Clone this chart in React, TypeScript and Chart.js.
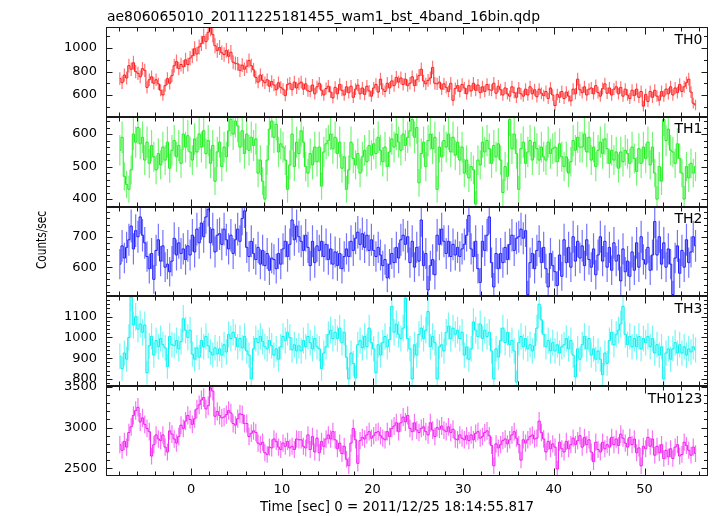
import { useEffect, useRef } from "react";
import { Chart, registerables } from "chart.js";

Chart.register(...registerables);

const TITLE = "ae806065010_20111225181455_wam1_bst_4band_16bin.qdp";
const X_TITLE = "Time [sec] 0 = 2011/12/25 18:14:55.817";
const Y_TITLE = "Counts/sec";

const BIN_START = -7.875;
const BIN_WIDTH = 0.25;
const X_MIN = -9.4;
const X_MAX = 57;
const xTickValues = [0, 10, 20, 30, 40, 50];
const xMinorStep = 2;
const xMajorStep = 10;

const panelNames = ["TH0", "TH1", "TH2", "TH3", "TH0123"];
const panelColors = ["#ff1a1a", "#1aee1a", "#1a1aff", "#00f0f0", "#f01af0"];
const errorColors = [
  "rgba(255,0,0,0.55)",
  "rgba(0,238,0,0.55)",
  "rgba(0,0,255,0.55)",
  "rgba(0,240,240,0.55)",
  "rgba(240,0,240,0.55)",
];
const yMins = [414, 377, 504, 765, 2404];
const yMaxs = [1180, 653, 799, 1198, 3510];
const yTickLabels = [
  [600, 800, 1000],
  [400, 500, 600],
  [600, 700],
  [800, 900, 1000, 1100],
  [2500, 3000, 3500],
];
const yMinorSteps = [100, 20, 20, 20, 100];

// TH0 count rate, 0.25 s bins from t = -8 s
const th0 = [
  740, 705, 770, 745, 850, 820, 875, 800,
  785, 755, 825, 810, 665, 730, 755, 700,
  730, 695, 640, 600, 680, 740, 700, 765,
  850, 885, 825, 860, 840, 900, 860, 915,
  935, 995, 950, 1010, 1040, 1100, 1055, 1135,
  1170, 1115, 1020, 980, 1005, 960, 945, 980,
  930, 965, 880, 870, 865, 810, 855, 820,
  845, 895, 850, 815, 750, 710, 770, 725,
  705, 730, 675, 715, 685, 645, 705, 665,
  650, 595, 690, 700, 645, 710, 660, 695,
  710, 650, 695, 635, 630, 685, 610, 670,
  700, 640, 600, 655, 675, 625, 575, 665,
  610, 690, 640, 600, 670, 620, 675, 580,
  650, 685, 610, 660, 605, 675, 635, 590,
  660, 690, 625, 735, 650, 630, 700, 660,
  720, 680, 750, 710, 745, 690, 735, 680,
  700, 755, 680, 730, 765, 820, 720, 695,
  725, 745, 835, 700, 695, 710, 650, 695,
  665, 630, 700, 555, 655, 680, 630, 690,
  660, 610, 680, 635, 700, 640, 685, 620,
  670, 630, 690, 645, 640, 700, 615, 675,
  645, 600, 660, 610, 590, 670, 620, 580,
  660, 610, 590, 650, 600, 670, 610, 645,
  585, 650, 615, 595, 630, 570, 660, 600,
  510, 605, 580, 630, 570, 625, 590, 550,
  650, 610, 735, 645, 620, 670, 600, 650,
  660, 610, 680, 620, 590, 655, 695, 615,
  660, 600, 650, 670, 610, 665, 590, 650,
  600, 570, 640, 595, 650, 580, 630, 505,
  605, 545, 630, 580, 640, 590, 555, 630,
  590, 650, 610, 670, 600, 660, 620, 690,
  630, 670, 705, 735, 625, 530, 515,
];

const th1 = [
  550, 590, 470, 445, 430, 490, 600, 575,
  620, 570, 590, 520, 575, 510, 565, 530,
  490, 540, 505, 560, 520, 575, 495, 550,
  580, 530, 565, 510, 600, 560, 595, 545,
  520, 585, 545, 600, 560, 610, 540, 580,
  510, 565, 455, 545, 575, 500, 560, 530,
  610, 645, 600, 640, 625, 560, 610, 540,
  600, 550, 590, 565, 585, 480, 520, 455,
  400, 520, 615, 640, 590, 630, 545, 570,
  560, 520, 430, 505, 600, 500, 575, 540,
  610, 575, 500, 480, 540, 505, 560, 515,
  560, 440, 545, 570, 580, 600, 555, 590,
  540, 575, 495, 530, 430, 490, 575, 525,
  505, 540, 480, 530, 550, 515, 565, 535,
  570, 540, 590, 550, 515, 560, 500, 545,
  585, 560, 600, 575, 550, 600, 565, 590,
  610, 645, 590, 620, 450, 540, 575, 500,
  580, 600, 555, 590, 430, 560, 530, 580,
  560, 600, 545, 590, 535, 575, 520, 560,
  480, 520, 465, 500, 490, 385, 520, 505,
  575, 545, 580, 555, 510, 565, 530, 570,
  520, 420, 500, 470, 645, 555, 600, 540,
  430, 555, 575, 510, 545, 580, 520, 575,
  555, 520, 560, 530, 520, 575, 540, 555,
  560, 515, 570, 530, 500, 530, 480, 515,
  580, 550, 590, 560, 560, 600, 545, 590,
  520, 560, 500, 550, 575, 540, 585, 555,
  510, 550, 520, 545, 495, 545, 515, 550,
  540, 510, 560, 525, 485, 555, 510, 560,
  525, 575, 505, 560, 480, 400, 500, 455,
  645, 580, 615, 550, 545, 510, 570, 525,
  480, 400, 500, 465, 510, 480, 500,
];

const th2 = [
  610, 670, 630, 665, 690, 735, 660, 720,
  700, 765, 705, 680, 635, 595, 645, 560,
  655, 690, 620, 670, 600, 610, 585, 620,
  695, 640, 680, 645, 660, 625, 670, 640,
  705, 650, 725, 680, 745, 700, 765, 790,
  680, 725, 650, 705, 710, 675, 725, 690,
  660, 705, 645, 690, 725, 685, 760, 785,
  665, 635, 685, 645, 625, 665, 610, 655,
  605, 645, 590, 630, 625, 595, 645, 610,
  660, 685, 635, 675, 755, 690, 735, 700,
  685, 655, 705, 665, 605, 685, 615, 670,
  655, 685, 635, 675, 625, 660, 610, 650,
  605, 645, 595, 635, 660, 635, 685, 655,
  695, 715, 675, 710, 665, 705, 655, 690,
  655, 635, 665, 640, 605, 625, 565, 610,
  645, 615, 665, 630, 690, 705, 675, 700,
  615, 685, 600, 665, 620, 755, 605, 645,
  525, 605, 625, 575, 705, 675, 725, 685,
  645, 685, 635, 675, 640, 665, 635, 660,
  675, 705, 770, 660, 635, 685, 595, 550,
  685, 655, 705, 765, 615, 535, 645, 595,
  645, 615, 665, 625, 675, 705, 655, 695,
  700, 725, 695, 720, 510, 615, 645, 595,
  655, 685, 615, 665, 595, 535, 645, 605,
  585, 540, 640, 570, 690, 615, 665, 600,
  700, 620, 685, 630, 670, 605, 690, 625,
  600, 660, 575, 640, 700, 620, 685, 600,
  665, 590, 680, 620, 640, 555, 660, 585,
  620, 570, 650, 590, 680, 600, 700, 625,
  610, 665, 590, 640, 750, 640, 700, 610,
  680, 600, 660, 610, 510, 630, 670, 580,
  655, 600, 690, 615, 650, 700, 670,
];

const th3 = [
  910, 850, 925, 895, 1000, 1195, 1060, 1100,
  1040, 1065, 1025, 1060, 830, 960, 1005, 915,
  985, 955, 995, 965, 950, 860, 1005, 965,
  960, 985, 945, 980, 1090, 1035, 1000, 1035,
  920, 895, 950, 905, 985, 955, 1005, 960,
  930, 915, 950, 920, 945, 915, 965, 930,
  1015, 995, 1025, 1000, 955, 995, 950, 1005,
  935, 915, 800, 945, 995, 975, 1005, 980,
  955, 945, 985, 960, 915, 945, 895, 955,
  1005, 985, 1025, 1000, 940, 965, 935, 960,
  935, 985, 955, 1005, 975, 945, 995, 955,
  945, 850, 925, 955, 1015, 1035, 995, 1025,
  995, 1045, 975, 1025, 905, 800, 925, 875,
  805, 965, 985, 950, 1005, 955, 1045, 975,
  945, 830, 965, 915, 975, 1005, 955, 990,
  1150, 1025, 1065, 1015, 995, 1045, 1190, 995,
  945, 800, 965, 915, 1015, 1045, 995, 1035,
  1125, 955, 1005, 975, 800, 955, 965, 935,
  1025, 1055, 995, 1045, 1015, 1035, 995, 1025,
  915, 955, 895, 945, 1075, 1035, 1005, 1065,
  995, 1035, 1005, 1025, 935, 800, 945, 905,
  985, 1045, 975, 1025, 965, 985, 935, 785,
  975, 1005, 955, 995, 945, 965, 935, 960,
  1045, 1160, 1085, 1015, 955, 985, 935, 975,
  935, 965, 925, 955, 965, 995, 945, 985,
  915, 810, 945, 895, 965, 1005, 945, 995,
  915, 945, 895, 935, 895, 820, 925, 875,
  985, 1025, 965, 1015, 1035, 1065, 1150, 1015,
  965, 1005, 955, 995, 955, 1005, 945, 995,
  975, 1005, 955, 995, 925, 965, 915, 955,
  800, 925, 945, 895, 945, 975, 925, 965,
  925, 955, 915, 945, 930, 955, 940,
];

const th0123 = [
  2790, 2720, 2830, 2760, 2940, 3010, 3150, 3210,
  3250, 3070, 3120, 3040, 2990, 2950, 2650, 2790,
  2910, 2860, 2840, 2910, 2760, 2700, 2960, 2920,
  2860, 2810, 2890, 3030, 2990, 3080, 3150, 3100,
  3040, 3110, 3230, 3280, 3340, 3370, 3230, 3270,
  3490, 3450, 3140, 3200, 3150, 3120, 3130, 3160,
  3210, 3180, 3050, 3030, 3110, 3170, 3160, 3050,
  3050, 2890, 2930, 2960, 2940, 2810, 2790, 2820,
  2690, 2670, 2760, 2750, 2860, 2830, 2760, 2730,
  2810, 2770, 2830, 2750, 2770, 2730, 2860, 2850,
  2850, 2770, 2750, 2910, 2730, 2890, 2700, 2870,
  2690, 2830, 2770, 2860, 2910, 2860, 2950, 2850,
  2740, 2810, 2680, 2770, 2610, 2530, 2810, 2990,
  2850, 2560, 2840, 2880, 2860, 2910, 2950, 2870,
  2900, 2940, 2950, 2900, 2870, 2850, 2950, 2890,
  2990, 3020, 3060, 2950, 3060, 3130, 3070, 3150,
  2990, 2950, 3060, 2970, 2940, 2990, 3010, 2950,
  2910, 3060, 2970, 2890, 3000, 2980, 3020, 2970,
  2950, 3010, 2940, 2980, 2860, 2850, 2910, 2870,
  2850, 2900, 2840, 2910, 2850, 2930, 2950, 2870,
  2890, 2940, 2960, 2900, 2780, 2530, 2800, 2750,
  2790, 2840, 2860, 2800, 2850, 2910, 2950, 2870,
  2790, 2600, 2850, 2810, 2850, 2890, 2910, 2860,
  2870, 3080, 2940, 2860, 2700, 2830, 2740, 2800,
  2760, 2490, 2820, 2740, 2700, 2830, 2740, 2790,
  2870, 2790, 2840, 2900, 2760, 2880, 2790, 2850,
  2700, 2580, 2820, 2730, 2700, 2820, 2740, 2790,
  2760, 2880, 2790, 2860, 2780, 2920, 2870, 2810,
  2760, 2880, 2790, 2860, 2690, 2750, 2530, 2770,
  2740, 2880, 2770, 2860, 2660, 2770, 2690, 2790,
  2620, 2720, 2640, 2740, 2620, 2760, 2790, 2650,
  2670, 2820, 2780, 2720, 2660, 2760, 2680,
];

const seriesList = [th0, th1, th2, th3, th0123];

const FONT = "'DejaVu Sans', sans-serif";

export default function App() {
  const canvasRef = useRef<HTMLCanvasElement | null>(null);

  useEffect(() => {
    document.body.style.margin = "0";
    const canvas = canvasRef.current;
    if (!canvas) return;

    const times = seriesList[0].map((_, i) => BIN_START + i * BIN_WIDTH);

    const datasets = seriesList.map((vals, p) => ({
      label: panelNames[p],
      data: vals.map((v, i) => ({ x: times[i], y: v })),
      yAxisID: "y" + p,
      borderColor: panelColors[p],
      borderWidth: 1,
      pointRadius: 0,
      stepped: "middle" as const,
      fill: false,
    }));

    const scales: any = {
      x: {
        type: "linear",
        position: "bottom",
        min: X_MIN,
        max: X_MAX,
        grid: { display: false, drawTicks: false },
        border: { display: false },
        afterBuildTicks: (s: any) => {
          s.ticks = xTickValues.map((v) => ({ value: v }));
        },
        afterFit: (s: any) => {
          s.height = 40;
        },
        ticks: {
          autoSkip: false,
          maxRotation: 0,
          padding: 6,
          color: "#000",
          font: { family: FONT, size: 13 },
          callback: (v: any) => String(v),
        },
      },
    };
    for (let p = panelNames.length - 1; p >= 0; p--) {
      scales["y" + p] = {
        type: "linear",
        position: "left",
        stack: "panels",
        stackWeight: 1,
        min: yMins[p],
        max: yMaxs[p],
        grid: { display: false, drawTicks: false },
        border: { display: false },
        afterBuildTicks: (s: any) => {
          s.ticks = yTickLabels[p].map((v) => ({ value: v }));
        },
        afterFit: (s: any) => {
          s.width = 106;
        },
        ticks: {
          autoSkip: false,
          padding: 9,
          color: "#000",
          font: { family: FONT, size: 13 },
          callback: (v: any) => String(v),
        },
      };
    }

    const errorBars = {
      id: "errorBars",
      beforeDatasetsDraw(chart: any) {
        const ctx = chart.ctx;
        const xs = chart.scales.x;
        seriesList.forEach((vals, p) => {
          const ys = chart.scales["y" + p];
          ctx.save();
          ctx.beginPath();
          ctx.rect(xs.left, ys.top, xs.right - xs.left, ys.bottom - ys.top);
          ctx.clip();
          ctx.strokeStyle = errorColors[p];
          ctx.lineWidth = 1.2;
          ctx.beginPath();
          vals.forEach((v, i) => {
            const err = Math.sqrt(v / BIN_WIDTH);
            const px = xs.getPixelForValue(times[i]);
            ctx.moveTo(px, ys.getPixelForValue(v + err));
            ctx.lineTo(px, ys.getPixelForValue(v - err));
          });
          ctx.stroke();
          ctx.restore();
        });
      },
    };

    const frames = {
      id: "frames",
      afterDraw(chart: any) {
        const ctx = chart.ctx;
        const xs = chart.scales.x;
        const left = Math.round(xs.left) + 0.5;
        const right = Math.round(xs.right) - 0.5;
        ctx.save();
        ctx.strokeStyle = "#1a1a1a";
        ctx.lineWidth = 1;
        panelNames.forEach((name, p) => {
          const ys = chart.scales["y" + p];
          const top = Math.round(ys.top) + 0.5;
          const bot = Math.round(ys.bottom) - 0.5;
          ctx.strokeRect(left, top, right - left, bot - top);
          ctx.beginPath();
          for (let t = Math.ceil(X_MIN / xMinorStep) * xMinorStep; t <= X_MAX; t += xMinorStep) {
            const px = Math.round(xs.getPixelForValue(t)) + 0.5;
            const len = t % xMajorStep === 0 ? 7 : 4;
            ctx.moveTo(px, top);
            ctx.lineTo(px, top + len);
            ctx.moveTo(px, bot);
            ctx.lineTo(px, bot - len);
          }
          const step = yMinorSteps[p];
          for (let v = Math.ceil(yMins[p] / step) * step; v <= yMaxs[p]; v += step) {
            const py = Math.round(ys.getPixelForValue(v)) + 0.5;
            const major = yTickLabels[p].includes(v);
            const len = major ? 6 : 3.5;
            ctx.moveTo(left, py);
            ctx.lineTo(left + len, py);
            ctx.moveTo(right, py);
            ctx.lineTo(right - len, py);
          }
          ctx.stroke();

          ctx.fillStyle = "#000";
          ctx.font = `14px ${FONT}`;
          ctx.textAlign = "right";
          ctx.textBaseline = "alphabetic";
          ctx.fillText(name, right - 5, ys.top + 16.5);
        });

        ctx.fillStyle = "#000";
        ctx.textAlign = "left";
        ctx.textBaseline = "alphabetic";

        ctx.save();
        ctx.font = `14px ${FONT}`;
        const tw = ctx.measureText(TITLE).width;
        ctx.translate(107, 20.5);
        ctx.scale(433 / tw, 1);
        ctx.fillText(TITLE, 0, 0);
        ctx.restore();

        ctx.font = `13.4px ${FONT}`;
        ctx.fillText(X_TITLE, 260, 511);

        ctx.save();
        ctx.translate(46, 240);
        ctx.rotate(-Math.PI / 2);
        ctx.font = `14px ${FONT}`;
        const w = ctx.measureText(Y_TITLE).width;
        ctx.scale(58 / w, 1);
        ctx.textAlign = "center";
        ctx.textBaseline = "alphabetic";
        ctx.fillText(Y_TITLE, 0, 0);
        ctx.restore();

        ctx.restore();
      },
    };

    const chart = new Chart(canvas, {
      type: "line",
      data: { datasets },
      options: {
        animation: false,
        responsive: false,
        devicePixelRatio: 1,
        events: [],
        layout: { padding: { top: 27, right: 9, left: 0, bottom: 0 } },
        plugins: {
          legend: { display: false },
          tooltip: { enabled: false },
          title: { display: false },
        },
        scales,
      },
      plugins: [errorBars, frames],
    });

    return () => chart.destroy();
  }, []);

  return (
    <div style={{ width: 717, height: 516, background: "#fff" }}>
      <canvas ref={canvasRef} width={717} height={516} style={{ display: "block" }} />
    </div>
  );
}
